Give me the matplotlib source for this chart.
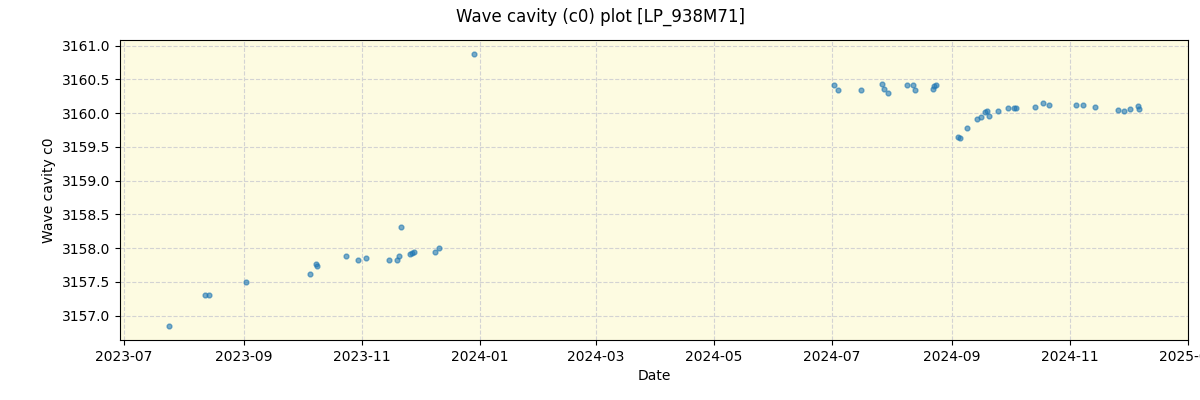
import matplotlib
matplotlib.use("Agg")
import matplotlib.pyplot as plt
import matplotlib.dates as mdates
import pandas as pd

dates = [
    "2023-07-24", "2023-08-12", "2023-08-14", "2023-09-02", "2023-10-05",
    "2023-10-08", "2023-10-09", "2023-10-24", "2023-10-30", "2023-11-03",
    "2023-11-15", "2023-11-19", "2023-11-20", "2023-11-21", "2023-11-26",
    "2023-11-27", "2023-11-28", "2023-12-09", "2023-12-11", "2023-12-29",
    "2024-07-02", "2024-07-04", "2024-07-16", "2024-07-27", "2024-07-28",
    "2024-07-30", "2024-08-09", "2024-08-12", "2024-08-13", "2024-08-22",
    "2024-08-23", "2024-08-24", "2024-09-04", "2024-09-05", "2024-09-09",
    "2024-09-14", "2024-09-16", "2024-09-18", "2024-09-19", "2024-09-20",
    "2024-09-25", "2024-09-30", "2024-10-03", "2024-10-04", "2024-10-14",
    "2024-10-18", "2024-10-21", "2024-11-04", "2024-11-08", "2024-11-14",
    "2024-11-26", "2024-11-29", "2024-12-02", "2024-12-06", "2024-12-07",
]
c0 = [
    3156.84, 3157.30, 3157.30, 3157.49, 3157.62,
    3157.76, 3157.73, 3157.88, 3157.83, 3157.85,
    3157.83, 3157.83, 3157.88, 3158.31, 3157.91,
    3157.92, 3157.94, 3157.94, 3158.00, 3160.88,
    3160.42, 3160.34, 3160.34, 3160.43, 3160.36,
    3160.30, 3160.42, 3160.42, 3160.34, 3160.36,
    3160.40, 3160.42, 3159.64, 3159.63, 3159.78,
    3159.91, 3159.94, 3160.01, 3160.03, 3159.96,
    3160.03, 3160.07, 3160.07, 3160.07, 3160.09,
    3160.15, 3160.12, 3160.12, 3160.12, 3160.09,
    3160.05, 3160.03, 3160.06, 3160.11, 3160.06,
]

x = pd.to_datetime(dates)

fig, ax = plt.subplots(figsize=(12, 4), dpi=100)
fig.subplots_adjust(left=0.1, right=0.99, top=0.9, bottom=0.15)

ax.set_facecolor("#fdfbe1")
ax.scatter(x, c0, s=12, color="tab:blue", alpha=0.6, zorder=3)

ax.xaxis.set_major_locator(mdates.MonthLocator(bymonth=[1, 3, 5, 7, 9, 11]))
ax.xaxis.set_major_formatter(mdates.DateFormatter("%Y-%m"))

ax.grid(True, linestyle="--", color="lightgray", linewidth=0.8)
ax.set_xlabel("Date")
ax.set_ylabel("Wave cavity c0")
fig.suptitle("Wave cavity (c0) plot [LP_938M71]")

plt.savefig("out.png")
plt.close()
